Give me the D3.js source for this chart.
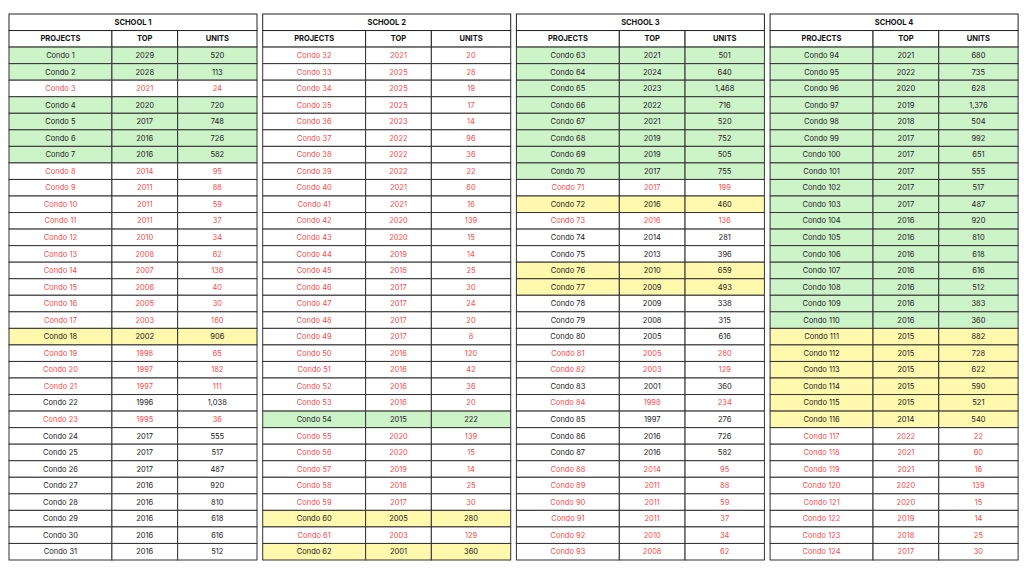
<!DOCTYPE html>
<html><head><meta charset="utf-8">
<script src="https://cdn.jsdelivr.net/npm/d3@7"></script>
<style>body{margin:0;background:#fff}</style></head>
<body><svg id="c" width="1024" height="576"></svg>
<script>
const schools = ["SCHOOL 1","SCHOOL 2","SCHOOL 3","SCHOOL 4"];
const headers = ["PROJECTS","TOP","UNITS"];
const tops = [
 [2029,2028,2021,2020,2017,2016,2016,2014,2011,2011,2011,2010,2008,2007,2006,2005,2003,2002,1998,1997,1997,1996,1995,2017,2017,2017,2016,2016,2016,2016,2016],
 [2021,2025,2025,2025,2023,2022,2022,2022,2021,2021,2020,2020,2019,2018,2017,2017,2017,2017,2016,2016,2016,2016,2015,2020,2020,2019,2018,2017,2005,2003,2001],
 [2021,2024,2023,2022,2021,2019,2019,2017,2017,2016,2016,2014,2013,2010,2009,2009,2008,2005,2005,2003,2001,1998,1997,2016,2016,2014,2011,2011,2011,2010,2008],
 [2021,2022,2020,2019,2018,2017,2017,2017,2017,2017,2016,2016,2016,2016,2016,2016,2016,2015,2015,2015,2015,2015,2014,2022,2021,2021,2020,2020,2019,2018,2017]
];
const units = [
 [520,113,24,720,748,726,582,95,88,59,37,34,62,138,40,30,160,906,65,182,111,1038,36,555,517,487,920,810,618,616,512],
 [20,28,19,17,14,96,36,22,60,16,139,15,14,25,30,24,20,8,120,42,36,20,222,139,15,14,25,30,280,129,360],
 [501,640,1468,716,520,752,505,755,199,460,136,281,396,659,493,338,315,616,280,129,360,234,276,726,582,95,88,59,37,34,62],
 [680,735,628,1376,504,992,651,555,517,487,920,810,618,616,512,383,360,882,728,622,590,521,540,22,60,16,139,15,14,25,30]
];
// g = green fill, y = yellow fill, r = red text, n = plain
const status = [
 "ggrggggrrrrrrrrrryrrrnrnnnnnnnn",
 "rrrrrrrrrrrrrrrrrrrrrrgrrrrryry",
 "ggggggggryrnnyynnnrrnrnnnrrrrrr",
 "gggggggggggggggggyyyyyyrrrrrrrr"
];
const startIdx = [1,32,63,94];

const svg = d3.select("#c");
const tx = d3.scaleBand().domain(d3.range(4)).range([9,1023]).paddingInner(0.0);
const rowY = d3.scaleBand().domain(d3.range(33)).range([14,560]);
const fills = {g:"#cdf3c9",y:"#fff8ad",r:"#fff",n:"#fff"};
const fmt = d3.format(",");
schools.forEach((s,k)=>{
  const x0 = 9 + k*253.7, w = 248;
  const cx = d3.scaleOrdinal().domain([0,1,2,3]).range([x0, x0+w*0.415, x0+w*0.68, x0+w]);
  const g = svg.append("g");
  const rows = [];
  for(let i=0;i<31;i++) rows.push({st:status[k][i], vals:["Condo "+(startIdx[k]+i), String(tops[k][i]), fmt(units[k][i])]});
  // title
  g.append("rect").attr("x",x0).attr("y",rowY(0)).attr("width",w).attr("height",rowY.bandwidth()).attr("fill","#fff").attr("stroke","#222").attr("stroke-width",1);
  g.append("text").attr("x",x0+w/2).attr("y",rowY(0)+rowY.bandwidth()/2).attr("dy","0.35em").attr("text-anchor","middle")
   .attr("font-family","Inter, sans-serif").attr("font-size",7.5).attr("font-weight",700).attr("fill","#111").text(s);
  headers.forEach((h,c)=>{
    g.append("rect").attr("x",cx(c)).attr("y",rowY(1)).attr("width",cx(c+1)-cx(c)).attr("height",rowY.bandwidth()).attr("fill","#fff").attr("stroke","#222");
    g.append("text").attr("x",(cx(c)+cx(c+1))/2).attr("y",rowY(1)+rowY.bandwidth()/2).attr("dy","0.35em").attr("text-anchor","middle")
     .attr("font-family","Inter, sans-serif").attr("font-size",7.5).attr("font-weight",700).attr("fill","#111").text(h);
  });
  rows.forEach((r,i)=>{
    r.vals.forEach((v,c)=>{
      g.append("rect").attr("x",cx(c)).attr("y",rowY(i+2)).attr("width",cx(c+1)-cx(c)).attr("height",rowY.bandwidth())
       .attr("fill",fills[r.st]).attr("stroke","#333").attr("stroke-width",1);
      g.append("text").attr("x",(cx(c)+cx(c+1))/2).attr("y",rowY(i+2)+rowY.bandwidth()/2).attr("dy","0.35em").attr("text-anchor","middle")
       .attr("font-family","Inter, sans-serif").attr("font-size",7.5).attr("fill",r.st==="r"?"#ff4a4a":"#222").text(v);
    });
  });
});
</script></body></html>
